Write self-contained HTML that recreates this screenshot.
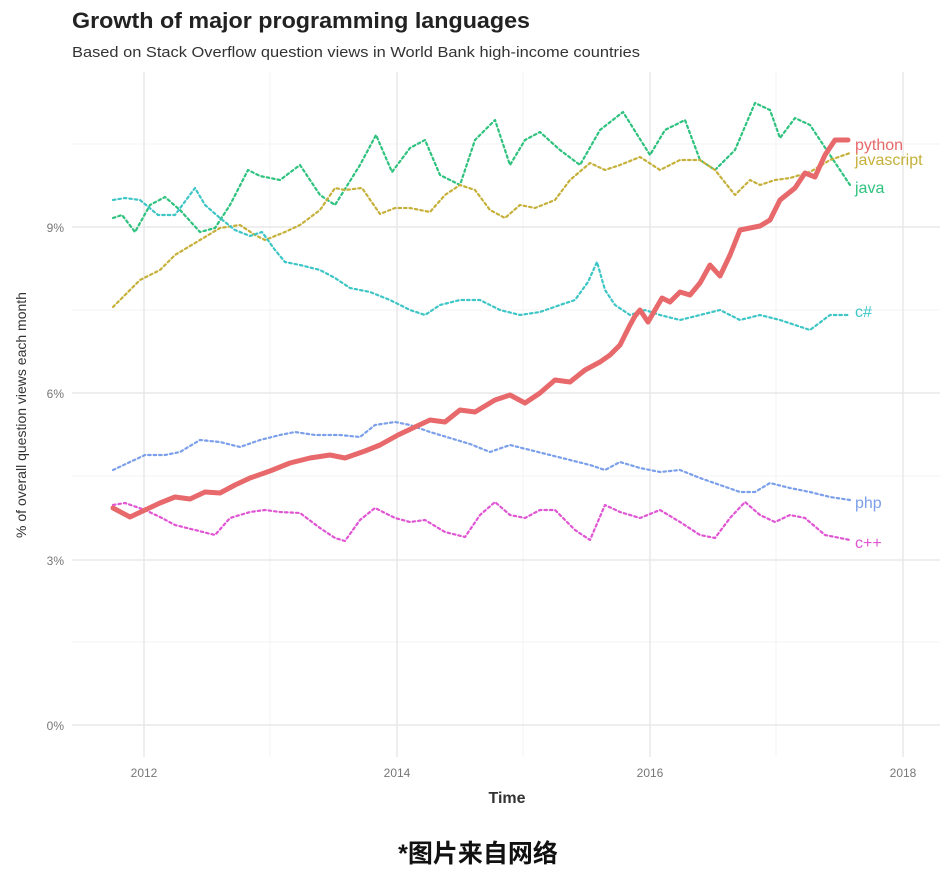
<!DOCTYPE html>
<html><head><meta charset="utf-8"><style>
body{margin:0;background:#fff;}
svg text{font-family:"Liberation Sans","Noto Sans CJK SC",sans-serif;}
</style></head><body>
<svg width="950" height="880" viewBox="0 0 950 880" xmlns="http://www.w3.org/2000/svg">
<rect width="950" height="880" fill="#fff"/>
<text x="72" y="28" font-size="22" font-weight="bold" fill="#222" textLength="458" lengthAdjust="spacingAndGlyphs">Growth of major programming languages</text>
<text x="72" y="57" font-size="15" fill="#333" textLength="568" lengthAdjust="spacingAndGlyphs">Based on Stack Overflow question views in World Bank high-income countries</text>
<g stroke="#f3f3f3" stroke-width="1">
<line x1="72" x2="940" y1="642" y2="642"/><line x1="72" x2="940" y1="476" y2="476"/><line x1="72" x2="940" y1="310" y2="310"/><line x1="72" x2="940" y1="144" y2="144"/>
<line x1="270" x2="270" y1="72" y2="757"/><line x1="523" x2="523" y1="72" y2="757"/><line x1="776" x2="776" y1="72" y2="757"/>
</g>
<g stroke="#e8e8e8" stroke-width="1.5">
<line x1="72" x2="940" y1="725" y2="725"/><line x1="72" x2="940" y1="560" y2="560"/><line x1="72" x2="940" y1="393" y2="393"/><line x1="72" x2="940" y1="227" y2="227"/>
<line x1="144" x2="144" y1="72" y2="757"/><line x1="397" x2="397" y1="72" y2="757"/><line x1="650" x2="650" y1="72" y2="757"/><line x1="903" x2="903" y1="72" y2="757"/>
</g>
<g font-size="12" fill="#777" text-anchor="end">
<text x="64" y="730">0%</text><text x="64" y="565">3%</text><text x="64" y="398">6%</text><text x="64" y="232">9%</text>
</g>
<g font-size="12" fill="#777" text-anchor="middle">
<text x="144" y="777">2012</text><text x="397" y="777">2014</text><text x="650" y="777">2016</text><text x="903" y="777">2018</text>
</g>
<text x="507" y="803" font-size="16" font-weight="bold" fill="#333" text-anchor="middle">Time</text>
<text transform="translate(26,415) rotate(-90)" font-size="14" fill="#333" text-anchor="middle">% of overall question views each month</text>
<g fill="none" stroke-width="2.2" stroke-dasharray="2.5,3" stroke-linecap="round" stroke-linejoin="round">
<polyline stroke="#2ec27e" points="113,218 122,215 135,232 150,205 165,197 180,210 200,232 215,228 230,205 248,170 260,176 280,180 300,165 320,195 335,205 360,165 376,135 392,172 410,148 425,140 440,175 460,185 475,140 495,120 510,165 525,140 540,132 560,150 580,165 600,130 623,112 650,155 665,130 685,120 700,160 715,170 735,150 755,103 770,110 780,138 795,118 810,125 830,155 850,185"/>
<polyline stroke="#c5b03a" points="113,307 125,295 140,280 160,270 175,255 200,240 220,228 240,225 255,235 265,240 285,232 300,225 320,210 335,188 345,190 362,188 380,214 395,208 410,208 430,212 445,195 460,185 475,190 490,210 505,218 520,205 535,208 555,200 570,180 590,163 605,170 620,165 640,157 660,170 680,160 700,160 715,170 735,195 750,180 760,185 775,180 790,178 810,172 830,160 850,153"/>
<polyline stroke="#3ec5c5" points="113,200 125,198 140,200 158,215 175,215 195,188 205,205 220,218 235,230 250,236 262,232 275,250 285,262 300,265 320,270 335,278 350,288 370,292 390,300 410,310 425,315 440,305 460,300 480,300 500,310 520,315 540,312 560,305 575,300 588,282 597,262 605,290 615,305 630,315 645,310 660,315 680,320 700,315 720,310 740,320 760,315 780,320 795,325 810,330 830,315 850,315"/>
<polyline stroke="#7b9fea" points="113,470 130,462 145,455 165,455 180,452 200,440 220,442 240,447 260,440 280,435 295,432 315,435 340,435 360,437 375,425 395,422 410,425 430,432 450,438 470,444 490,452 510,445 530,450 550,455 570,460 590,465 605,470 620,462 640,468 660,472 680,470 700,478 720,485 740,492 755,492 770,483 790,488 810,492 830,497 850,500"/>
<polyline stroke="#e055d3" points="113,505 125,503 145,510 160,517 175,525 195,530 215,535 230,518 250,512 265,510 280,512 300,513 320,528 335,538 345,541 360,520 375,508 395,518 410,522 425,520 445,532 465,537 480,515 495,502 510,515 525,518 540,510 555,510 575,530 590,540 605,505 620,512 640,518 660,510 680,522 700,535 715,538 730,518 745,502 760,515 775,522 790,515 805,518 825,535 850,540"/>
</g>
<polyline fill="none" stroke="#e8696b" stroke-width="5" stroke-linejoin="round" stroke-linecap="round" points="113,508 130,517 145,510 160,503 175,497 190,499 205,492 220,493 235,485 250,478 270,471 290,463 310,458 330,455 345,458 365,451 380,445 398,435 415,427 430,420 445,422 460,410 475,412 495,400 510,395 525,403 540,393 555,380 570,382 585,370 600,362 610,355 620,345 630,325 635,316 640,310 648,322 655,310 662,298 670,302 680,292 690,295 700,283 710,265 720,276 730,255 740,230 750,228 760,226 770,220 780,200 795,188 805,173 815,177 825,155 835,140 848,140"/>
<g font-size="16">
<text x="855" y="150" fill="#e8696b">python</text>
<text x="855" y="165" fill="#c5b03a">javascript</text>
<text x="855" y="193" fill="#2ec27e">java</text>
<text x="855" y="317" fill="#3ec5c5">c#</text>
<text x="855" y="508" fill="#7b9fea">php</text>
<text x="855" y="548" fill="#e055d3">c++</text>
</g>
<text x="478" y="862" font-size="25" font-weight="bold" fill="#111" text-anchor="middle">*图片来自网络</text>
</svg>
</body></html>
